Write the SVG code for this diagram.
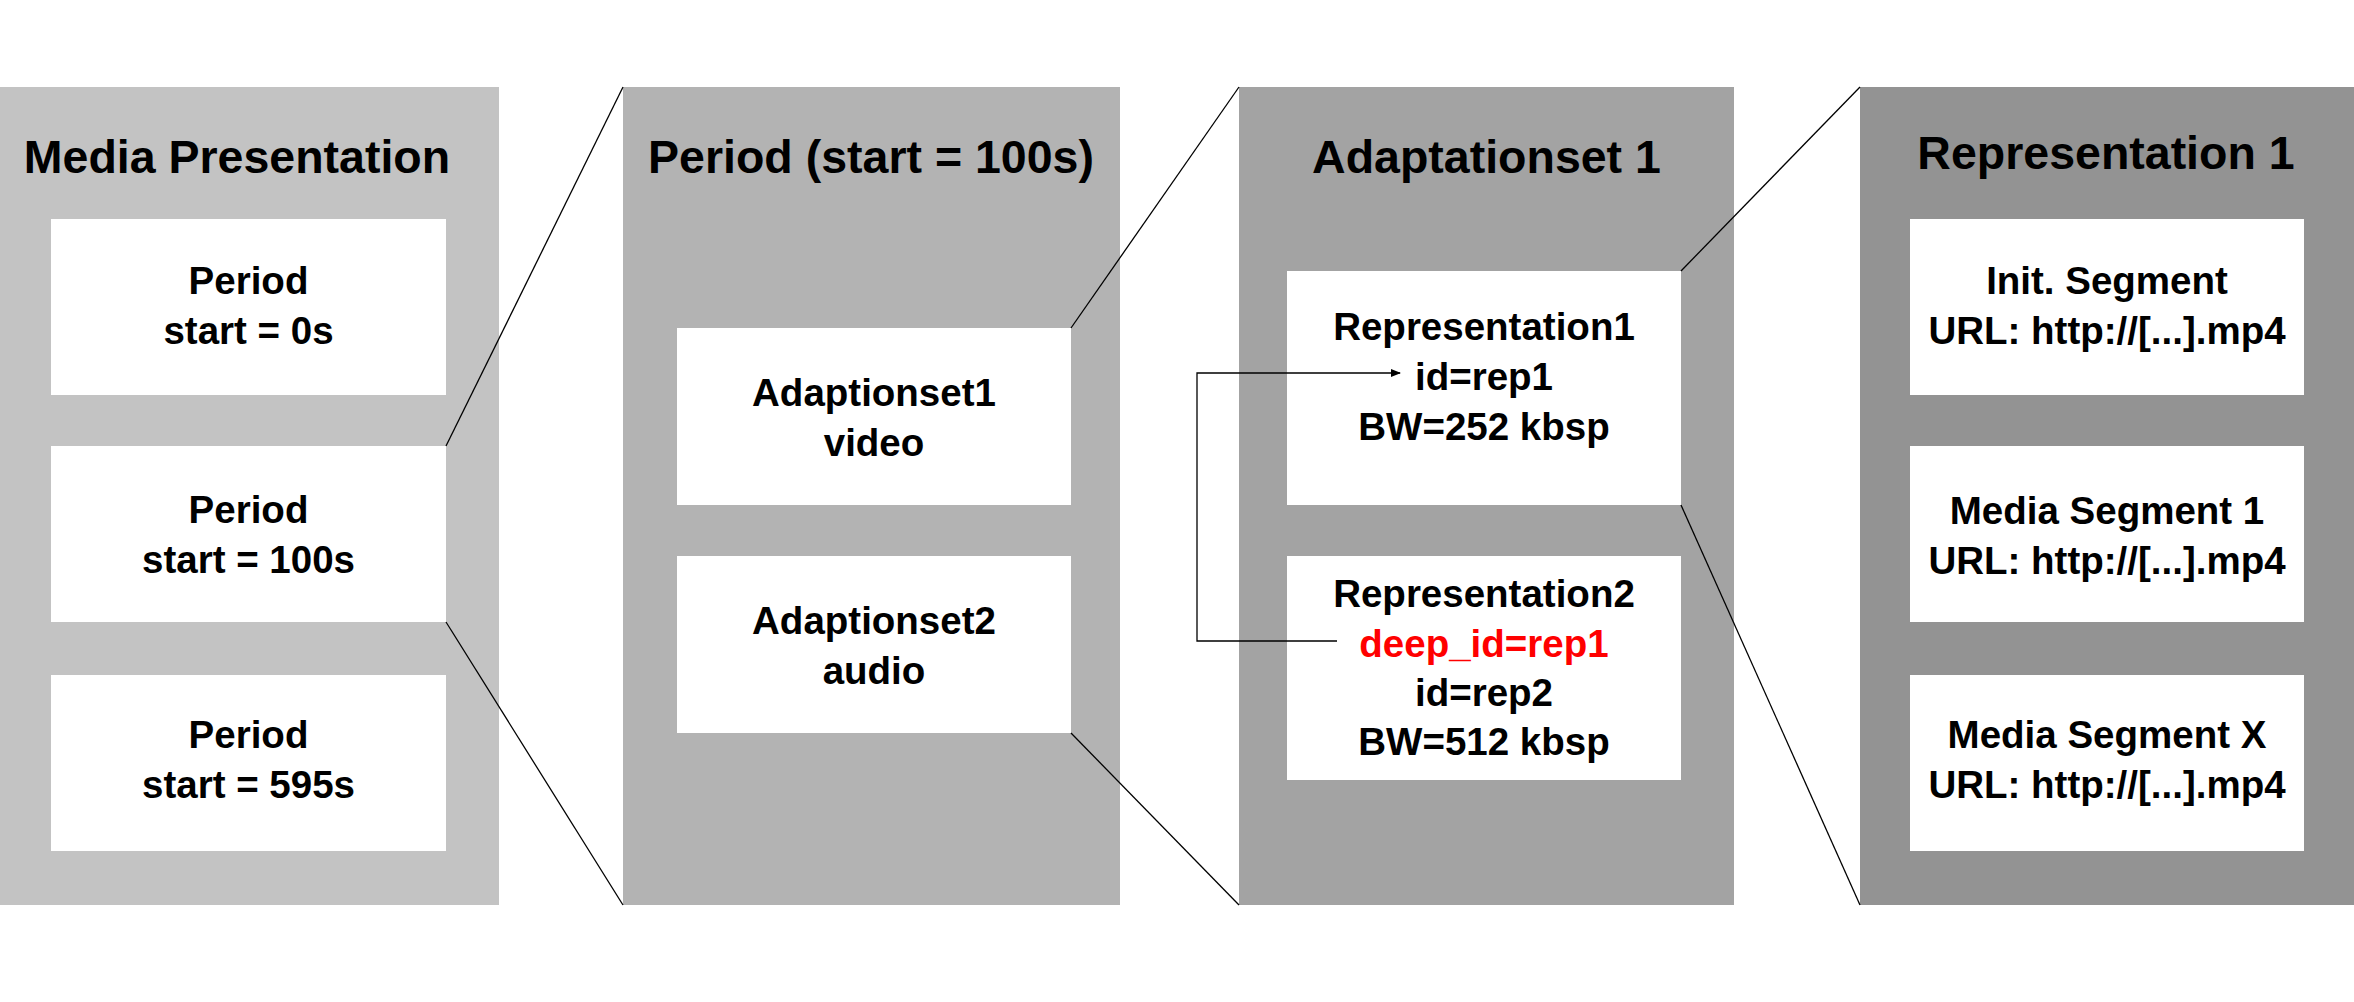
<svg xmlns="http://www.w3.org/2000/svg" width="2354" height="1002" viewBox="0 0 2354 1002">
<defs>
<style>
text{font-family:"Liberation Sans",Arial,sans-serif;font-weight:bold;text-anchor:middle;fill:#000}
.t{font-size:46.5px}
.b{font-size:38.5px}
.red{fill:#ff0000}
.box{fill:#ffffff}
.zl{stroke:#000;stroke-width:1.3;fill:none}
</style>
<marker id="ah" markerWidth="10" markerHeight="10" refX="9" refY="5" orient="auto" markerUnits="userSpaceOnUse">
<path d="M0,1 L10,5 L0,9 Z" fill="#000"/>
</marker>
</defs>
<rect width="2354" height="1002" fill="#ffffff"/>
<g id="media-presentation">
<rect x="0" y="87" width="499" height="818" fill="#c3c3c3"/>
<text class="t" x="237" y="173">Media Presentation</text>
</g>
<g id="mp-period-0">
<rect class="box" x="51" y="219" width="395" height="176"/>
<text class="b" x="248.5" y="294">Period</text>
<text class="b" x="248.5" y="344">start = 0s</text>
</g>
<g id="mp-period-100">
<rect class="box" x="51" y="446" width="395" height="176"/>
<text class="b" x="248.5" y="523">Period</text>
<text class="b" x="248.5" y="573">start = 100s</text>
</g>
<g id="mp-period-595">
<rect class="box" x="51" y="675" width="395" height="176"/>
<text class="b" x="248.5" y="748">Period</text>
<text class="b" x="248.5" y="798">start = 595s</text>
</g>
<g id="period">
<rect x="623" y="87" width="497" height="818" fill="#b3b3b3"/>
<text class="t" x="871" y="173">Period (start = 100s)</text>
</g>
<g id="adaptionset1">
<rect class="box" x="677" y="328" width="394" height="177"/>
<text class="b" x="874" y="406">Adaptionset1</text>
<text class="b" x="874" y="456">video</text>
</g>
<g id="adaptionset2">
<rect class="box" x="677" y="556" width="394" height="177"/>
<text class="b" x="874" y="634">Adaptionset2</text>
<text class="b" x="874" y="684">audio</text>
</g>
<g id="adaptationset">
<rect x="1239" y="87" width="495" height="818" fill="#a3a3a3"/>
<text class="t" x="1486.5" y="173">Adaptationset 1</text>
</g>
<g id="representation1">
<rect class="box" x="1287" y="271" width="394" height="234"/>
<text class="b" x="1484" y="340">Representation1</text>
<text class="b" x="1484" y="390">id=rep1</text>
<text class="b" x="1484" y="440">BW=252 kbsp</text>
</g>
<g id="representation2">
<rect class="box" x="1287" y="556" width="394" height="224"/>
<text class="b" x="1484" y="607">Representation2</text>
<text class="b red" x="1484" y="656.5">deep_id=rep1</text>
<text class="b" x="1484" y="706">id=rep2</text>
<text class="b" x="1484" y="755">BW=512 kbsp</text>
</g>
<g id="representation">
<rect x="1860" y="87" width="494" height="818" fill="#939393"/>
<text class="t" x="2106" y="169">Representation 1</text>
</g>
<g id="init-segment">
<rect class="box" x="1910" y="219" width="394" height="176"/>
<text class="b" x="2107" y="294">Init. Segment</text>
<text class="b" x="2107" y="344">URL: http://[...].mp4</text>
</g>
<g id="media-segment-1">
<rect class="box" x="1910" y="446" width="394" height="176"/>
<text class="b" x="2107" y="524">Media Segment 1</text>
<text class="b" x="2107" y="574">URL: http://[...].mp4</text>
</g>
<g id="media-segment-x">
<rect class="box" x="1910" y="675" width="394" height="176"/>
<text class="b" x="2107" y="748">Media Segment X</text>
<text class="b" x="2107" y="798">URL: http://[...].mp4</text>
</g>
<g id="connectors">
<line class="zl" x1="446" y1="446" x2="623" y2="87"/>
<line class="zl" x1="446" y1="622" x2="623" y2="905"/>
<line class="zl" x1="1071" y1="328" x2="1239" y2="87"/>
<line class="zl" x1="1071" y1="733" x2="1239" y2="905"/>
<line class="zl" x1="1681" y1="271" x2="1860" y2="87"/>
<line class="zl" x1="1681" y1="505" x2="1860" y2="905"/>
<polyline class="zl" points="1337,641 1197,641 1197,373 1400,373" marker-end="url(#ah)"/>
</g>
</svg>
